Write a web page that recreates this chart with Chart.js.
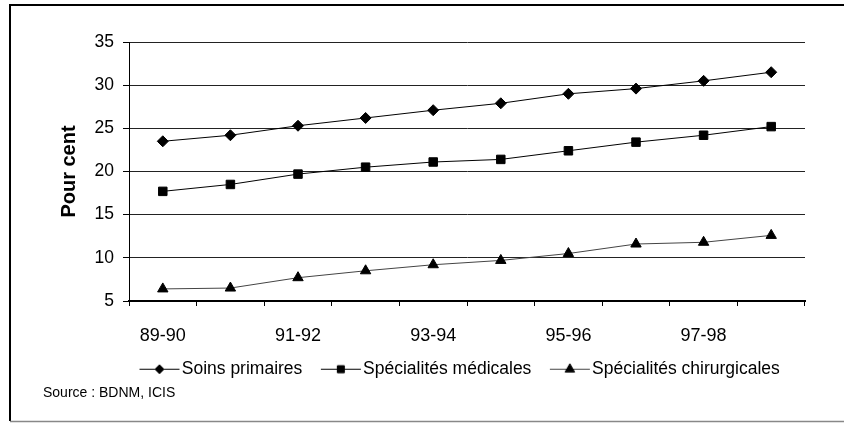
<!DOCTYPE html>
<html lang="fr">
<head>
<meta charset="utf-8">
<title>Pour cent</title>
<script src="https://cdn.jsdelivr.net/npm/chart.js@4.4.0/dist/chart.umd.min.js"></script>
<style>
  html, body { margin: 0; padding: 0; background: #fff; }
  canvas { display: block; }
</style>
</head>
<body>
<canvas id="myChart" width="844" height="423"></canvas>
<script>
const periodes = ['89-90', '90-91', '91-92', '92-93', '93-94', '94-95', '95-96', '96-97', '97-98', '98-99'];
const soinsPrimaires = [23.5, 24.2, 25.3, 26.2, 27.1, 27.9, 29.0, 29.6, 30.5, 31.5];
const specMedicales = [17.7, 18.5, 19.7, 20.5, 21.1, 21.4, 22.4, 23.4, 24.2, 25.2];
const specChirurgicales = [6.4, 6.5, 7.7, 8.5, 9.2, 9.7, 10.5, 11.6, 11.8, 12.6];
const yTicks = [5, 10, 15, 20, 25, 30, 35];
const source = 'Source : BDNM, ICIS';

const police = "'Liberation Sans', Arial, sans-serif";
Chart.defaults.font.family = police;
Chart.defaults.color = '#000';

// petit trait + marqueur pour la légende
function symbole(style, radius, color) {
  const c = document.createElement('canvas');
  c.width = 48;
  c.height = 16;
  const g = c.getContext('2d');
  g.strokeStyle = color;
  g.lineWidth = 1;
  g.beginPath();
  g.moveTo(7, 8.5);
  g.lineTo(47, 8.5);
  g.stroke();
  g.fillStyle = '#000';
  g.strokeStyle = '#000';
  Chart.helpers.drawPoint(g, { pointStyle: style, radius: radius, borderWidth: 1, rotation: 0 }, 27, 8.5);
  return c;
}
const symboles = [
  symbole('rectRot', 4.5, '#000'),
  symbole('rect', 5, '#000'),
  symbole('triangle', 5.5, '#444')
];

// cadre extérieur + source
const cadre = {
  id: 'cadre',
  afterLayout(chart) {
    chart.legend.left = 121;
  },
  afterDraw(chart) {
    const ctx = chart.ctx;
    ctx.save();
    ctx.strokeStyle = '#000';
    ctx.lineWidth = 2;
    ctx.beginPath();
    ctx.moveTo(844, 5);
    ctx.lineTo(10, 5);
    ctx.lineTo(10, 421);
    ctx.stroke();
    ctx.strokeStyle = '#888';
    ctx.lineWidth = 1.5;
    ctx.beginPath();
    ctx.moveTo(10, 421.5);
    ctx.lineTo(844, 421.5);
    ctx.stroke();
    ctx.fillStyle = '#000';
    ctx.font = '14px ' + police;
    ctx.textBaseline = 'middle';
    ctx.fillText(source, 43, 393);
    ctx.restore();
  }
};

const ctx = document.getElementById('myChart');
new Chart(ctx, {
  type: 'line',
  data: {
    labels: periodes,
    datasets: [{
      label: 'Soins primaires',
      data: soinsPrimaires,
      borderColor: '#000',
      borderWidth: 1,
      pointStyle: 'rectRot',
      pointRadius: 5.5,
      pointBackgroundColor: '#000',
      pointBorderColor: '#000',
      pointBorderWidth: 1
    }, {
      label: 'Spécialités médicales',
      data: specMedicales,
      borderColor: '#000',
      borderWidth: 1,
      pointStyle: 'rect',
      pointRadius: 6,
      pointBackgroundColor: '#000',
      pointBorderColor: '#000',
      pointBorderWidth: 1
    }, {
      label: 'Spécialités chirurgicales',
      data: specChirurgicales,
      borderColor: '#444',
      borderWidth: 1,
      pointStyle: 'triangle',
      pointRadius: 6,
      pointBackgroundColor: '#000',
      pointBorderColor: '#000',
      pointBorderWidth: 1
    }]
  },
  options: {
    responsive: false,
    animation: false,
    devicePixelRatio: 1,
    layout: { padding: { left: 10, top: 42, right: 39, bottom: 35.5 } },
    plugins: {
      tooltip: { enabled: false },
      legend: {
        position: 'bottom',
        align: 'start',
        fullSize: true,
        labels: {
          usePointStyle: true,
          pointStyleWidth: 33,
          padding: 19,
          font: { size: 17.5 },
          color: '#000',
          generateLabels: chart => chart.data.datasets.map((ds, i) => ({
            text: ds.label,
            pointStyle: symboles[i],
            fillStyle: '#000',
            strokeStyle: '#000',
            lineWidth: 0,
            hidden: false,
            datasetIndex: i,
            fontColor: '#000'
          }))
        }
      }
    },
    scales: {
      x: {
        offset: true,
        afterFit: scale => { scale.height = 40; },
        border: { display: true, color: '#000', width: 2 },
        grid: {
          offset: true,
          drawOnChartArea: true,
          color: c => (c.index === periodes.length ? '#000' : 'rgba(0,0,0,0)'),
          tickColor: '#000',
          tickLength: 5
        },
        ticks: {
          autoSkip: false,
          maxRotation: 0,
          padding: 19,
          font: { size: 18 },
          callback: (v, i) => (i % 2 === 0 ? periodes[i] : '')
        }
      },
      y: {
        min: yTicks[0],
        max: yTicks[yTicks.length - 1],
        afterFit: scale => { scale.width = 119; },
        border: { display: true, color: '#000', width: 1 },
        grid: { color: '#222', lineWidth: 1, tickColor: '#000', tickLength: 6 },
        ticks: { stepSize: yTicks[1] - yTicks[0], padding: 9, font: { size: 17.5 } },
        title: {
          display: true,
          text: 'Pour cent',
          font: { size: 20, weight: 'bold' },
          padding: { top: 47, bottom: 0 }
        }
      }
    }
  },
  plugins: [cadre]
});
</script>
</body>
</html>
